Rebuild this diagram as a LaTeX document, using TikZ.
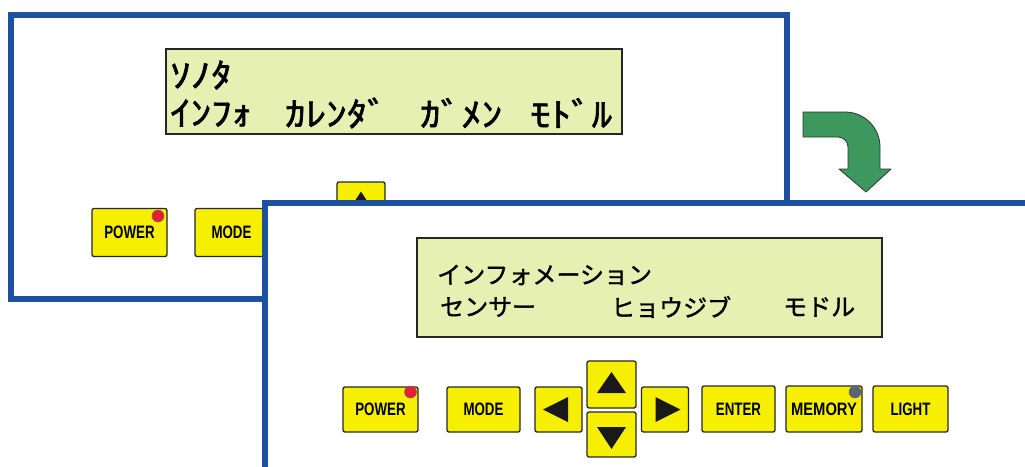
\documentclass[tikz,border=0pt]{standalone}
\usepackage{fontspec}
\setmainfont{Liberation Sans}
\newfontfamily\jp[FakeBold=1.4]{Noto Sans CJK JP}
\newfontfamily\jpb[FakeBold=1.6]{Noto Sans CJK JP}
\definecolor{frameblue}{RGB}{30,80,160}
\definecolor{lcdfill}{RGB}{230,240,178}
\definecolor{btnyellow}{RGB}{246,240,0}
\definecolor{arrowgreen}{RGB}{60,152,92}
\definecolor{leddark}{RGB}{90,100,118}
\definecolor{ledred}{RGB}{232,30,50}
\newcommand{\hk}[1]{\scalebox{1}[0.82]{#1}}
\newcommand{\bt}[1]{\scalebox{0.74}[1]{\bfseries #1}}
\begin{document}
\begin{tikzpicture}[x=1pt,y=-1pt,
  panel/.style={draw=frameblue, line width=6pt, fill=white},
  lcd/.style={draw=black!85, line width=1.3pt, fill=lcdfill, inner sep=0pt},
  halfkana/.style={inner sep=0pt, anchor=west, font=\jpb\fontsize{41}{41}\selectfont},
  fullkana/.style={inner sep=0pt, anchor=west, font=\jp\fontsize{24}{24}\selectfont},
  btn/.style={draw=black!85, line width=1.3pt, fill=btnyellow, rounded corners=2pt, inner sep=0pt,
    font=\fontsize{18}{18}\selectfont},
  tri/.style={fill=black!90},
  led/.style={draw=black!60, line width=0.5pt},
  bigarrow/.style={fill=arrowgreen, draw=black!80, line width=0.8pt, line join=round}
]
\useasboundingbox (0,0) rectangle (1025,466);
\clip (0,0) rectangle (1025,466);

% ---------- back panel ----------
\draw[panel] (11,15) rectangle (787,299);
\node[lcd, minimum width=456pt, minimum height=85pt] (blcd) at (394,91.5) {};
\node[halfkana] (bt1) at (170,75) {\hk{ｿﾉﾀ}};
\node[halfkana] (bt2) at (170,113) {\hk{ｲﾝﾌｫ}};
\node[halfkana] (bt3) at (285,113) {\hk{ｶﾚﾝﾀﾞ}};
\node[halfkana] (bt4) at (420,113) {\hk{ｶﾞﾒﾝ}};
\node[halfkana] (bt5) at (530,113) {\hk{ﾓﾄﾞﾙ}};

\node[btn, minimum width=75pt, minimum height=48pt] (bpower) at (129.5,232.5) {\bt{POWER}};
\fill[ledred, led] (158,216) circle (6);
\node[btn, minimum width=73pt, minimum height=48pt] (bmode) at (231.5,232.5) {\bt{MODE}};
\node[btn, minimum width=48pt, minimum height=47pt] (bup) at (361,205.5) {};
\fill[tri, shift={(bup.center)}] (0,-14) -- (14.5,8.5) -- (-14.5,8.5) -- cycle;

% ---------- green arrow ----------
\draw[bigarrow] (803,112) -- (845,112) arc[start angle=-90, end angle=0, radius=35]
  -- (880,169) -- (891,169) -- (866,192) -- (839,169) -- (848,169) -- (848,147)
  arc[start angle=0, end angle=-90, radius=10] -- (803,137) -- cycle;

% ---------- front panel ----------
\draw[panel] (265,203) rectangle (1045,490);
\node[lcd, minimum width=465pt, minimum height=99pt] (flcd) at (649.5,287.5) {};
\node[fullkana] (ft1) at (437,275) {インフォメーション};
\node[fullkana] (ft2) at (440,307) {センサー};
\node[fullkana] (ft3) at (611,307) {ヒョウジブ};
\node[fullkana] (ft4) at (783,307) {モドル};

\node[btn, minimum width=75pt, minimum height=45pt] (fpower) at (380.5,409.5) {\bt{POWER}};
\fill[ledred, led] (410.5,392) circle (6);
\node[btn, minimum width=73pt, minimum height=45pt] (fmode) at (483.5,409.5) {\bt{MODE}};
\node[btn, minimum width=47pt, minimum height=45pt] (fleft) at (558.5,409.5) {};
\fill[tri, shift={(fleft.center)}] (-15.5,0) -- (9.5,-12.5) -- (9.5,12.5) -- cycle;
\node[btn, minimum width=49pt, minimum height=47pt] (fup) at (611.5,384.5) {};
\fill[tri, shift={(fup.center)}] (0,-12.5) -- (14.5,8.5) -- (-14.5,8.5) -- cycle;
\node[btn, minimum width=49pt, minimum height=45pt] (fdown) at (611.5,434.5) {};
\fill[tri, shift={(fdown.center)}] (0,14.5) -- (14.5,-7.5) -- (-14.5,-7.5) -- cycle;
\node[btn, minimum width=47pt, minimum height=45pt] (fright) at (665,409.5) {};
\fill[tri, shift={(fright.center)}] (15.5,0) -- (-9.5,-12.5) -- (-9.5,12.5) -- cycle;
\node[btn, minimum width=73pt, minimum height=46pt] (fenter) at (738.5,409) {\bt{ENTER}};
\node[btn, minimum width=76pt, minimum height=46pt] (fmemory) at (824,409) {\scalebox{0.82}[1]{\bfseries MEMORY}};
\fill[leddark, led] (855,392) circle (6);
\node[btn, minimum width=75pt, minimum height=46pt] (flight) at (910.5,409) {\bt{LIGHT}};
\end{tikzpicture}
\end{document}
